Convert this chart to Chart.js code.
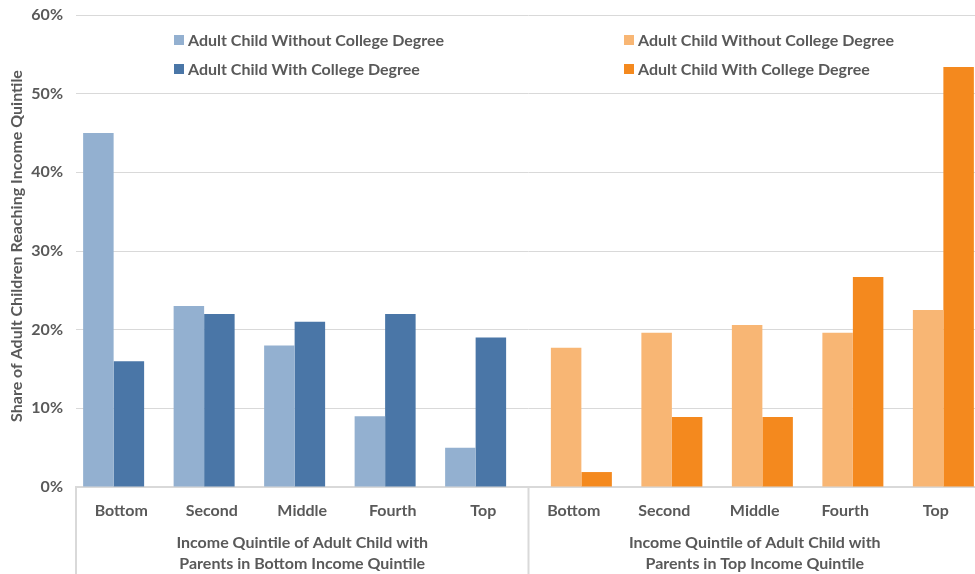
<!DOCTYPE html>
<html>
<head>
<meta charset="utf-8">
<script src="https://cdn.jsdelivr.net/npm/chart.js@4.4.0/dist/chart.umd.min.js"></script>
<style>
  html, body { margin: 0; padding: 0; background: #fff; overflow: hidden; }
  #wrap { position: relative; width: 981px; height: 574px; }
</style>
</head>
<body>
<div id="wrap"><canvas id="chart"></canvas></div>
<script>
// Income quintile categories (bottom-parent group, then top-parent group)
const categories = ['Bottom', 'Second', 'Middle', 'Fourth', 'Top',
                    'Bottom', 'Second', 'Middle', 'Fourth', 'Top'];
const groupTitles = [
    ['Income Quintile of Adult Child with', 'Parents in Bottom Income Quintile'],
    ['Income Quintile of Adult Child with', 'Parents in Top Income Quintile']
];
const yTitle = 'Share of Adult Children Reaching Income Quintile';

// Parents in bottom quintile
const bottomNoDegree = [45, 23, 18, 9, 5, null, null, null, null, null];
const bottomDegree = [16, 22, 21, 22, 19, null, null, null, null, null];
// Parents in top quintile
const topNoDegree = [null, null, null, null, null, 17.7, 19.6, 20.6, 19.6, 22.5];
const topDegree = [null, null, null, null, null, 1.9, 8.9, 8.9, 26.7, 53.4];

const yTicks = [0, 10, 20, 30, 40, 50, 60];

const TEXT = '#595959';
const GRID = '#d9d9d9';
const FONT = 'Lato, "Open Sans", sans-serif';

// Draws the two-column legend, the y title and the grouped axis labels
const decorations = {
    id: 'decorations',
    afterDraw(chart) {
        const ctx = chart.ctx;
        const x = chart.scales.x;
        const area = chart.chartArea;
        const n = categories.length;
        const step = x.getPixelForValue(1) - x.getPixelForValue(0);
        const leftEdge = x.getPixelForValue(0) - step / 2;
        const midEdge = x.getPixelForValue(n / 2) - step / 2;
        const rightEdge = x.getPixelForValue(n - 1) + step / 2;

        ctx.save();
        // group separators below the axis
        ctx.strokeStyle = GRID;
        ctx.lineWidth = 2;
        [leftEdge, midEdge, rightEdge].forEach(px => {
            ctx.beginPath();
            ctx.moveTo(px, area.bottom);
            ctx.lineTo(px, chart.height);
            ctx.stroke();
        });

        // group titles
        ctx.fillStyle = TEXT;
        ctx.font = 'bold 16px ' + FONT;
        ctx.textAlign = 'center';
        ctx.textBaseline = 'middle';
        const centers = [(leftEdge + midEdge) / 2, (midEdge + rightEdge) / 2];
        groupTitles.forEach((lines, i) => {
            ctx.fillText(lines[0], centers[i], area.bottom + 56);
            ctx.fillText(lines[1], centers[i], area.bottom + 77);
        });

        // legend: blue column on the left, orange column on the right
        const ds = chart.data.datasets;
        const cols = [174, 624];
        const rows = [40, 69];
        const order = [[0, 0, 0], [1, 1, 0], [2, 0, 1], [3, 1, 1]];
        ctx.textAlign = 'left';
        order.forEach(([di, c, r]) => {
            ctx.fillStyle = ds[di].backgroundColor;
            ctx.fillRect(cols[c], rows[r] - 5, 10, 10);
            ctx.fillStyle = TEXT;
            ctx.fillText(ds[di].label, cols[c] + 14, rows[r] + 1);
        });

        // y axis title
        ctx.translate(17, 246);
        ctx.rotate(-Math.PI / 2);
        ctx.textAlign = 'center';
        ctx.font = 'bold 16px ' + FONT;
        ctx.fillText(yTitle, 0, 0);
        ctx.restore();
    }
};

new Chart(document.getElementById('chart'), {
    type: 'bar',
    data: {
        labels: categories,
        datasets: [
            { label: 'Adult Child Without College Degree', data: bottomNoDegree, backgroundColor: '#93b0d0' },
            { label: 'Adult Child Without College Degree', data: topNoDegree, backgroundColor: '#f8b674' },
            { label: 'Adult Child With College Degree', data: bottomDegree, backgroundColor: '#4a76a7' },
            { label: 'Adult Child With College Degree', data: topDegree, backgroundColor: '#f4891e' }
        ]
    },
    options: {
        responsive: true,
        maintainAspectRatio: false,
        animation: false,
        categoryPercentage: 0.674,
        barPercentage: 2,
        layout: { autoPadding: false, padding: { top: 15, right: 0, left: 0, bottom: 0 } },
        plugins: {
            legend: { display: false },
            tooltip: { enabled: false }
        },
        scales: {
            x: {
                grid: { display: false, drawTicks: false },
                border: { color: GRID, width: 2 },
                ticks: { color: TEXT, padding: 14, font: { family: FONT, size: 16, weight: 'bold' }, autoSkip: false, maxRotation: 0 },
                afterFit(scale) { scale.height = 87; }
            },
            y: {
                min: 0,
                max: 60,
                afterBuildTicks(scale) { scale.ticks = yTicks.map(v => ({ value: v })); },
                grid: { color: GRID, drawTicks: false },
                border: { display: false },
                ticks: {
                    color: TEXT,
                    padding: 13,
                    font: { family: FONT, size: 16, weight: 'bold' },
                    callback: v => v + '%'
                },
                afterFit(scale) {
                    scale.width = 76;
                    scale.paddingTop = 0;
                    scale.paddingBottom = 0;
                }
            }
        }
    },
    plugins: [decorations]
});
</script>
</body>
</html>
